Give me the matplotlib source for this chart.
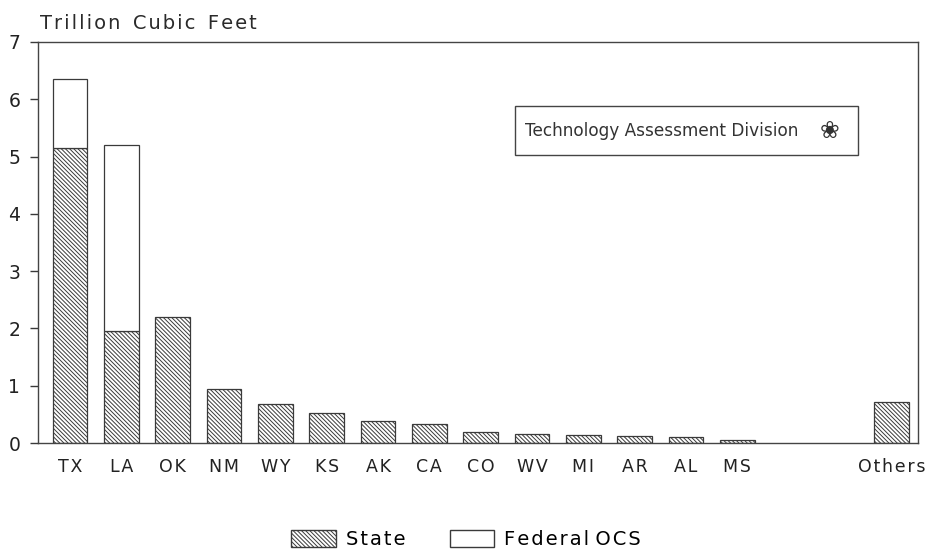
import numpy as np
import matplotlib.pyplot as plt
from matplotlib.patches import Patch, Rectangle

states = ["TX", "LA", "OK", "NM", "WY", "KS", "AK", "CA", "CO", "WV", "MI", "AR", "AL", "MS", "Others"]
state_vals = [5.15, 1.95, 2.2, 0.95, 0.68, 0.53, 0.38, 0.33, 0.19, 0.16, 0.14, 0.13, 0.10, 0.06, 0.72]
federal_vals = [1.2, 3.25, 0, 0, 0, 0, 0, 0, 0, 0, 0, 0, 0, 0, 0]
xpos = [0, 1, 2, 3, 4, 5, 6, 7, 8, 9, 10, 11, 12, 13, 16]

plt.rcParams['font.family'] = ['DejaVu Sans']
plt.rcParams['hatch.color'] = '#666666'
plt.rcParams['hatch.linewidth'] = 0.7


def spread(s):
    # old typewriter-ish letter spacing
    return "\u200a".join(s)


fig = plt.figure(figsize=(9.32, 5.59), dpi=100)
ax = fig.add_axes([0.041, 0.2075, 0.944, 0.7175])

ink = '#3a3a3a'
hatch = '\\\\\\\\\\\\\\\\'
ax.bar(xpos, state_vals, width=0.68, color='white', edgecolor=ink, hatch=hatch, linewidth=0.9)
fed_x = [x for x, f in zip(xpos, federal_vals) if f > 0]
fed_v = [f for f in federal_vals if f > 0]
fed_b = [s for s, f in zip(state_vals, federal_vals) if f > 0]
ax.bar(fed_x, fed_v, bottom=fed_b, width=0.68, color='white', edgecolor=ink, linewidth=0.9)

ax.set_xlim(-0.62, 16.52)
ax.set_ylim(0, 7)
ax.set_yticks(range(8))
ax.set_yticklabels([str(i) for i in range(8)], fontsize=13.5, color='#222222')
ax.set_xticks(xpos)
ax.set_xticklabels([spread(s) for s in states], fontsize=12.5, color='#222222')
ax.tick_params(axis='x', length=0, pad=11)
ax.tick_params(axis='y', length=6, width=1, direction='out', color=ink, pad=7)
for sp in ax.spines.values():
    sp.set_color('#444444')
    sp.set_linewidth(1)

fig.text(0.043, 0.958, spread("Trillion Cubic Feet").replace("\u200a \u200a", "  "),
         fontsize=14, color='#2a2a2a', ha='left', va='center')

# credit box
ax.add_patch(Rectangle((0.542, 0.718), 0.39, 0.122, transform=ax.transAxes,
                       facecolor='white', edgecolor='#444444', linewidth=1, zorder=3))
ax.text(0.553, 0.779, "Technology Assessment Division", transform=ax.transAxes,
        fontsize=12.2, color='#333333', ha='left', va='center', zorder=4)
ax.text(0.9, 0.779, "\u2740", transform=ax.transAxes,
        fontsize=17, color='#333333', ha='center', va='center', zorder=4)

handles = [Patch(facecolor='white', edgecolor=ink, hatch=hatch, label=spread('State')),
           Patch(facecolor='white', edgecolor=ink, label=spread('Federal OCS').replace("\u200a \u200a", " "))]
fig.legend(handles=handles, loc='center', bbox_to_anchor=(0.5, 0.035), ncol=2, frameon=False,
           fontsize=14, handlelength=2.3, handleheight=0.95, handletextpad=0.5, columnspacing=2.3)

fig.savefig("out.png", dpi=100)
